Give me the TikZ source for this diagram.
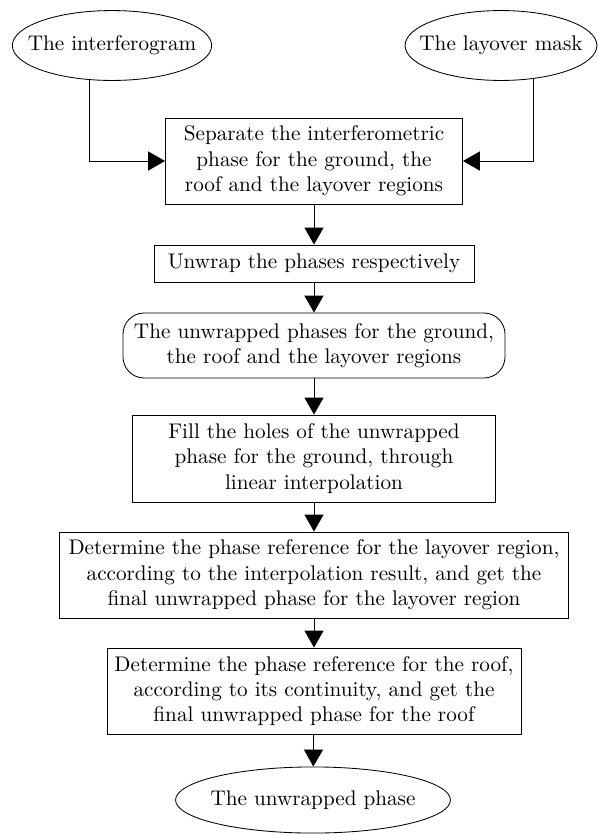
\documentclass[tikz,border=0pt]{standalone}
\usepackage{amsmath}
\usepackage{tikz}
\usetikzlibrary{
    arrows.meta,
    shapes.geometric
}

\begin{document}
\begin{tikzpicture}[x=0.472pt, y=-0.472pt,
    >={Triangle[length=8pt,width=9pt]},
    proc/.style={draw, rectangle, align=center, inner sep=1.5pt},
    data/.style={draw, ellipse, align=center, inner xsep=-6.5pt, inner ysep=0pt, minimum height=33pt}
]

% Frame
\useasboundingbox (0,0) rectangle (598,835);

% Inputs
\node[data] (interf) at (112,45.5) {The interferogram};
\node[data] (mask) at (501,45.5) {The layover mask};

% Separation
\node[proc, minimum width=140.2pt, minimum height=40.6pt] (sep) at (314,161)
    {Separate the interferometric\\phase for the ground, the\\roof and the layover regions};
\draw[->] (interf.-123) |- (sep.west);
\draw[->] (mask.-46) |- (sep.east);

% Unwrapping
\node[proc, minimum width=151pt, minimum height=17.5pt] (unwrap) at (314,263.5)
    {Unwrap the phases respectively};
\node[proc, rounded corners=10pt, minimum width=180.3pt, minimum height=30.7pt] (phases) at (314,345.5)
    {The unwrapped phases for the ground,\\the roof and the layover regions};

% Ground
\node[proc, minimum width=171.3pt, minimum height=41.1pt] (fill) at (314,458.5)
    {Fill the holes of the unwrapped\\phase for the ground, through\\linear interpolation};

% Layover and roof
\node[proc, minimum width=240pt, minimum height=40.6pt] (layover) at (314,575)
    {Determine the phase reference for the layover region,\\according to the interpolation result, and get the\\final unwrapped phase for the layover region};
\node[proc, minimum width=195.4pt, minimum height=40.6pt] (roof) at (314,691)
    {Determine the phase reference for the roof,\\according to its continuity, and get the\\final unwrapped phase for the roof};

% Output
\node[data, inner xsep=-2.5pt, minimum height=31.2pt] (result) at (313,800) {The unwrapped phase};

% Flow
\draw[->] (sep) -- (unwrap);
\draw[->] (unwrap) -- (phases);
\draw[->] (phases) -- (fill);
\draw[->] (fill) -- (layover);
\draw[->] (layover) -- (roof);
\draw[->] (roof) -- (result);

\end{tikzpicture}
\end{document}
